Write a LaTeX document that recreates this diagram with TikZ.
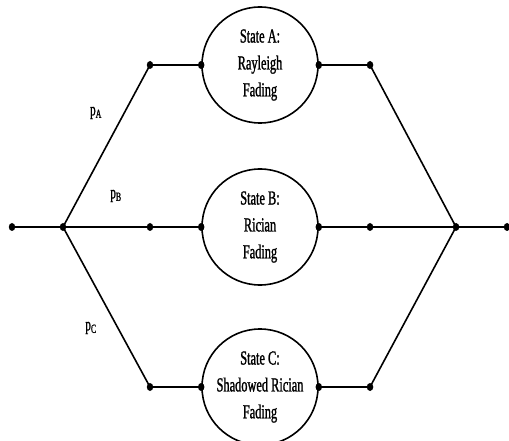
\documentclass[tikz,border=0pt]{standalone}
\usepackage{fontspec}
\usetikzlibrary{shapes.geometric}
\setmainfont{Liberation Serif}[FakeStretch=0.62,FakeBold=1.2]
\begin{document}
\begin{tikzpicture}[x=1bp,y=-1bp,
  line width=1.6bp,
  dot/.style={ellipse,fill=black,inner sep=0pt,minimum width=6.5bp,minimum height=8bp},
  statenode/.style={circle,draw,line width=1.6bp,minimum size=116bp,inner sep=0pt,align=center,
    font=\fontsize{20}{27}\selectfont},
  plabel/.style={font=\fontsize{18}{18}\selectfont,inner sep=0pt}]
\useasboundingbox (0,0) rectangle (509,441);
\clip (0,0) rectangle (509,441);
% state circles
\node[statenode] (A) at (260,65) {State A:\\Rayleigh\\Fading};
\node[statenode] (B) at (260,227) {State B:\\Rician\\Fading};
\node[statenode] (C) at (260,387) {State C:\\Shadowed Rician\\Fading};
% dots
\node[dot] (in) at (12,227) {};
\node[dot] (split) at (63,227) {};
\node[dot] (la) at (150,65) {};
\node[dot] (lb) at (150,227) {};
\node[dot] (lc) at (150,387) {};
\node[dot] (ra) at (370,65) {};
\node[dot] (rb) at (370,227) {};
\node[dot] (rc) at (370,387) {};
\node[dot] (merge) at (456,227) {};
\node[dot] (out) at (507,227) {};
\node[dot] at (A.west) {};
\node[dot] at (A.east) {};
\node[dot] at (B.west) {};
\node[dot] at (B.east) {};
\node[dot] at (C.west) {};
\node[dot] at (C.east) {};
% connectors
\draw (in.center) -- (split.center);
\draw (split.center) -- (la.center) -- (A.west);
\draw (split.center) -- (lb.center) -- (B.west);
\draw (split.center) -- (lc.center) -- (C.west);
\draw (A.east) -- (ra.center) -- (merge.center);
\draw (B.east) -- (rb.center) -- (merge.center);
\draw (C.east) -- (rc.center) -- (merge.center);
\draw (merge.center) -- (out.center);
% labels
\node[plabel] (pa) at (96,113) {p\textsubscript{A}};
\node[plabel] (pb) at (116,196) {p\textsubscript{B}};
\node[plabel] (pc) at (91,328) {p\textsubscript{C}};
\end{tikzpicture}
\end{document}
